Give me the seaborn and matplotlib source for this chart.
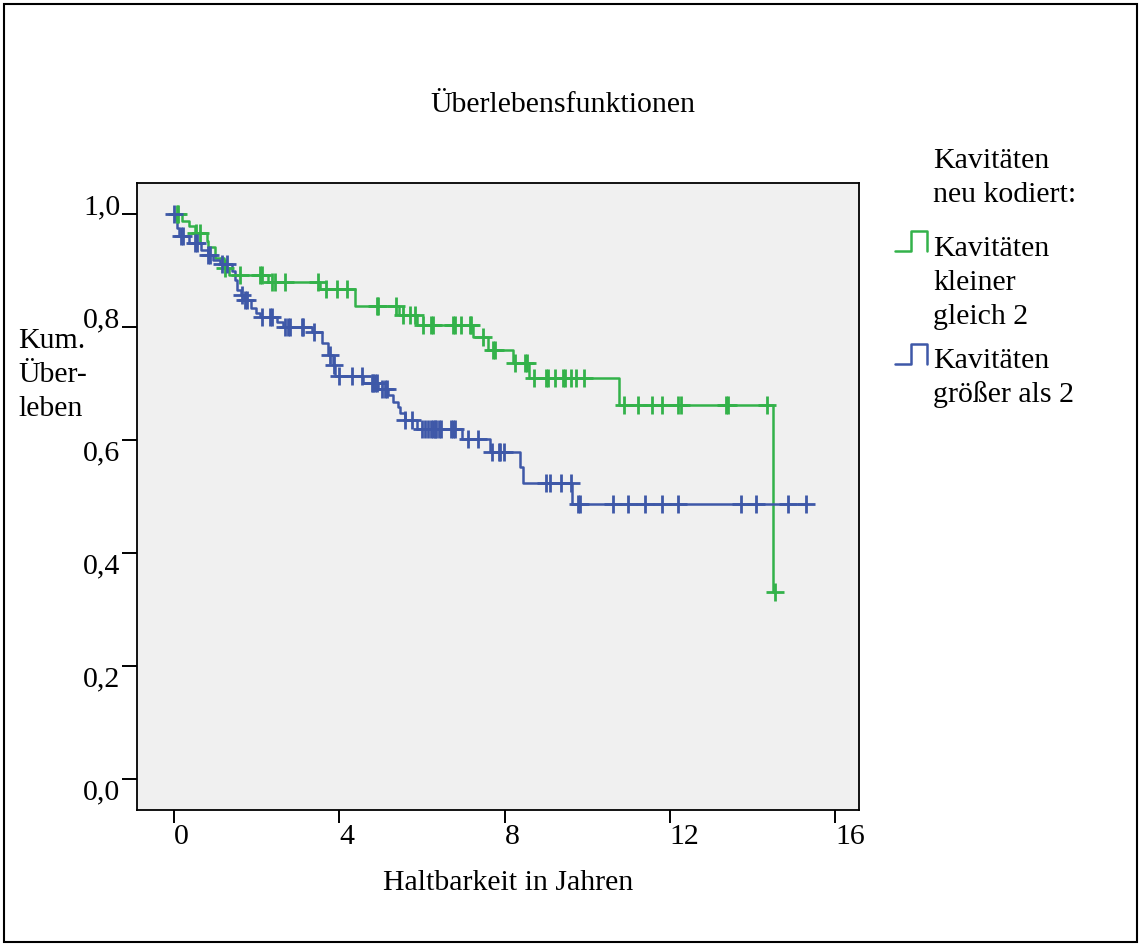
import numpy as np
import pandas as pd
import matplotlib
matplotlib.use("Agg")
import matplotlib.pyplot as plt
from matplotlib.lines import Line2D
from matplotlib.patches import Rectangle
import seaborn as sns

# Kaplan-Meier steps (time in years, cumulative survival)
green_event_t = [0.19, 0.36, 0.51, 0.79, 0.82, 0.99, 1.20, 1.32, 2.28, 3.52, 4.37, 5.45, 5.87,
                 7.23, 7.60, 8.20, 8.60, 10.76, 14.50]
green_event_s = [0.988, 0.979, 0.966, 0.952, 0.942, 0.922, 0.905, 0.892, 0.880, 0.867, 0.837, 0.821,
                 0.804, 0.782, 0.759, 0.736, 0.710, 0.662, 0.331]
green_censor_t = [0.07, 0.10, 0.53, 0.63, 1.23, 1.60, 2.08, 2.12, 2.36, 2.44, 2.68, 3.47, 3.67, 3.93,
                  4.18, 4.90, 4.93, 5.38, 5.54, 5.70, 5.82, 6.02, 6.22, 6.26, 6.75, 6.79, 6.95, 7.15,
                  7.19, 7.47, 7.71, 7.76, 8.24, 8.49, 8.53, 8.72, 9.00, 9.04, 9.23, 9.41, 9.45, 9.61,
                  9.73, 9.91, 10.88, 11.23, 11.58, 11.81, 12.20, 12.27, 13.36, 13.40, 14.36, 14.54]

blue_event_t = [0.04, 0.08, 0.12, 0.35, 0.65, 0.82, 0.95, 1.12, 1.40, 1.48, 1.52, 1.62, 1.70, 1.85,
                1.97, 2.08, 2.48, 2.64, 3.33, 3.57, 3.72, 3.85, 3.90, 4.58, 4.94, 5.18, 5.30, 5.42,
                5.46, 5.58, 5.87, 6.98, 7.65, 8.38, 8.44, 9.64]
blue_event_s = [0.990, 0.975, 0.962, 0.948, 0.936, 0.928, 0.919, 0.911, 0.900, 0.884, 0.866, 0.857,
                0.848, 0.834, 0.825, 0.818, 0.809, 0.800, 0.791, 0.771, 0.751, 0.732, 0.713, 0.701,
                0.691, 0.679, 0.668, 0.659, 0.647, 0.635, 0.620, 0.601, 0.579, 0.553, 0.524, 0.487]
blue_censor_t = [0.0, 0.16, 0.21, 0.50, 0.55, 0.83, 0.87, 1.15, 1.27, 1.64, 1.72, 1.76, 2.12, 2.32,
                 2.36, 2.68, 2.76, 2.80, 3.09, 3.13, 3.38, 3.78, 3.86, 4.00, 4.30, 4.54, 4.78, 4.82,
                 4.86, 4.90, 5.02, 5.10, 5.16, 5.60, 5.76, 5.99, 6.07, 6.15, 6.21, 6.26, 6.31, 6.35,
                 6.41, 6.47, 6.71, 6.75, 6.79, 7.11, 7.35, 7.70, 7.86, 7.90, 7.98, 9.01, 9.09, 9.37,
                 9.61, 9.77, 9.83, 10.62, 10.98, 11.40, 11.82, 12.19, 13.72, 14.08, 14.85, 15.30]

x_ticks = [0, 4, 8, 12, 16]
y_ticks = [0.0, 0.2, 0.4, 0.6, 0.8, 1.0]
y_tick_labels = ["0,0", "0,2", "0,4", "0,6", "0,8", "1,0"]

GREEN = "#33b24a"
BLUE = "#3e58a8"
W, H = 1141, 946
FS = 21.5
LS = 1.38


def step_frame(event_t, event_s, censor_t):
    t = [0.0] + list(event_t) + [max(censor_t)]
    s = [1.0] + list(event_s) + [event_s[-1]]
    return pd.DataFrame({"t": t, "s": s})


def censor_frame(event_t, event_s, censor_t):
    et = np.array([0.0] + list(event_t))
    es = np.array([1.0] + list(event_s))
    idx = np.searchsorted(et, censor_t, side="right") - 1
    return pd.DataFrame({"t": censor_t, "s": es[idx]})


def fx(px):
    return px / W


def fy(py):
    return 1 - py / H


def main():
    sns.set_theme(style="white")
    plt.rcParams["font.family"] = ["Liberation Serif", "DejaVu Serif"]
    plt.rcParams.update({"text.color": "black", "axes.labelcolor": "black",
                         "xtick.color": "black", "ytick.color": "black"})

    fig = plt.figure(figsize=(W / 100, H / 100), dpi=100)
    ax = fig.add_axes([fx(137), fy(810), fx(859) - fx(137), fy(183) - fy(810)])
    ax.set_facecolor("#f0f0f0")

    for ev_t, ev_s, cen_t, col in [(green_event_t, green_event_s, green_censor_t, GREEN),
                                   (blue_event_t, blue_event_s, blue_censor_t, BLUE)]:
        steps = step_frame(ev_t, ev_s, cen_t)
        sns.lineplot(data=steps, x="t", y="s", ax=ax, color=col, linewidth=1.8,
                     drawstyle="steps-post", estimator=None, sort=False)
        cens = censor_frame(ev_t, ev_s, cen_t)
        sns.scatterplot(data=cens, x="t", y="s", ax=ax, color=col, marker="+",
                        s=150, linewidth=2.0, zorder=3)

    ax.set_xlim(-0.9, 16.58)
    ax.set_ylim(-0.055, 1.055)
    ax.set_xticks(x_ticks)
    ax.set_xticklabels([str(v) for v in x_ticks], ha="left")
    ax.set_yticks(y_ticks)
    ax.set_yticklabels(y_tick_labels)
    for lab, v in zip(ax.get_yticklabels(), y_ticks):
        lab.set_va("baseline" if v >= 0.8 else "top")
    ax.tick_params(axis="x", direction="out", length=9, width=1.4,
                   labelsize=FS, pad=1, bottom=True)
    ax.tick_params(axis="y", direction="out", length=11, width=1.4,
                   labelsize=FS, pad=1, left=True)
    ax.set_xlabel("")
    ax.set_ylabel("")
    for sp in ax.spines.values():
        sp.set_color("black")
        sp.set_linewidth(1.3)

    fig.text(fx(563), fy(105), "Überlebensfunktionen", ha="center", va="center", fontsize=FS)
    fig.text(fx(508), fy(883), "Haltbarkeit in Jahren", ha="center", va="center", fontsize=FS)
    fig.text(fx(18), fy(375), "Kum.\nÜber-\nleben", ha="left", va="center", fontsize=FS,
             linespacing=LS)

    # legend drawn by hand to get the step-shaped icons
    fig.text(fx(933), fy(178), "Kavitäten\nneu kodiert:", ha="left", va="center",
             fontsize=FS, linespacing=LS)
    fig.text(fx(933), fy(283), "Kavitäten\nkleiner\ngleich 2", ha="left", va="center",
             fontsize=FS, linespacing=LS)
    fig.text(fx(933), fy(378), "Kavitäten\ngrößer als 2", ha="left", va="center",
             fontsize=FS, linespacing=LS)
    for top, col in [(231, GREEN), (344, BLUE)]:
        xs = [895, 911, 911, 927, 927]
        ys = [top + 20, top + 20, top, top, top + 20]
        fig.add_artist(Line2D([fx(v) for v in xs], [fy(v) for v in ys], color=col,
                              linewidth=1.8, transform=fig.transFigure))

    fig.add_artist(Rectangle((fx(4), fy(942)), fx(1137) - fx(4), fy(4) - fy(942),
                             transform=fig.transFigure, fill=False, edgecolor="black",
                             linewidth=1.5))

    fig.savefig("out.png", dpi=100)
    plt.close(fig)


if __name__ == "__main__":
    main()
